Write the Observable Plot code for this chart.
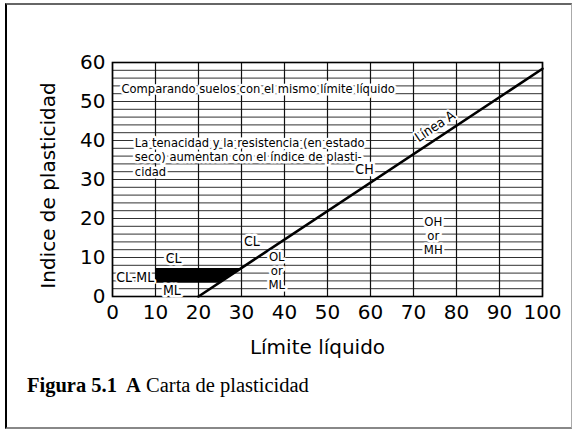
<!DOCTYPE html>
<html><head><meta charset="utf-8">
<script src="https://cdn.jsdelivr.net/npm/d3@7"></script>
<script src="https://cdn.jsdelivr.net/npm/@observablehq/plot@0.6"></script>
<style>
body{margin:0;background:#fff;}
#wrap{position:relative;width:574px;height:431px;overflow:hidden;background:#fff;}
#frame{position:absolute;left:5px;top:3px;width:567px;height:426px;border-left:2px solid #000;border-top:2px solid #666;border-bottom:2px solid #888;border-right:1px solid #aaa;box-sizing:border-box;pointer-events:none;}
#chart{position:absolute;left:0;top:0;}
#cap{position:absolute;left:27px;top:374px;font-family:"Liberation Serif","Times New Roman",serif;font-size:20.5px;color:#000;white-space:pre;}
</style></head>
<body>
<div id="wrap"><div id="chart"></div><div id="frame"></div>
<div id="cap"><b>Figura 5.1  A</b> Carta de plasticidad</div></div>
<script>
const xTicks = [0,10,20,30,40,50,60,70,80,90,100];
const yTicks = [0,10,20,30,40,50,60];
const gridY = [0,2,4,6,8,10,12,14,16,18,20,22,24,26,28,30,32,34,36,38,40,42,44,46,48,50,52,54,56,58,60];
const aLineLL = [20, 100];
const aLinePI = [0, 58.4];
const bandPI = [3.4, 7.2];
const bandLLstart = [10, 10];
const bandLLend = [24.7, 29.9];
const labelText = ["CH","CL","CL","ML"];
const labelLL = [58.6, 32.4, 14.2, 13.8];
const labelPI = [32.6, 14.1, 9.7, 1.5];
const stackText = ["OL\nor\nML","OH\nor\nMH"];
const stackLL = [38.2, 74.6];
const stackPI = [6.7, 15.6];
const endLabel = {text: "CL-ML", ll: 9.7, pi: 4.9};
const noteText = ["Comparando suelos con el mismo límite líquido",
  "La tenacidad y la resistencia (en estado\nseco) aumentan con el índice de plasti-\ncidad"];
const noteLL = [2.1, 5.2];
const notePI = [53.3, 35.8];
const lineLabel = {text: "Línea A", ll: 75, pi: 43.6};
const xTitle = "Límite líquido";
const yTitle = "Indice de plasticidad";

const labels = labelText.map((t,i)=>({t, ll: labelLL[i], pi: labelPI[i]}));
const stacks = stackText.map((t,i)=>({t, ll: stackLL[i], pi: stackPI[i]}));
const notes = noteText.map((t,i)=>({t, ll: noteLL[i], pi: notePI[i]}));
const aLine = aLineLL.map((ll,i)=>({ll, pi: aLinePI[i]}));
const band = bandPI.map((pi,i)=>({pi, x1: bandLLstart[i], x2: bandLLend[i]}));
const narrow = "'Liberation Sans Narrow','DejaVu Sans Condensed','Arial Narrow',sans-serif";

const chart = Plot.plot({
  width: 574, height: 362,
  marginLeft: 112, marginRight: 32, marginTop: 62, marginBottom: 66,
  style: {fontFamily: "'DejaVu Sans', sans-serif", background: "transparent"},
  x: {domain: [0, 100]},
  y: {domain: [0, 60]},
  marks: [
    Plot.ruleY(gridY, {stroke: "#1a1a1a", strokeWidth: 0.9}),
    Plot.ruleX(xTicks, {stroke: "#111", strokeWidth: 1.2}),
    Plot.frame({stroke: "#000", strokeWidth: 1.6}),
    Plot.areaX(band, {y: "pi", x1: "x1", x2: "x2", fill: "#000", curve: "linear"}),
    Plot.line(aLine, {x: "ll", y: "pi", stroke: "#000", strokeWidth: 2.6}),
    Plot.text(notes, {x: "ll", y: "pi", text: "t", textAnchor: "start", fontSize: 12.8, fontFamily: narrow, lineHeight: 1.12, fill: "#000", stroke: "white", strokeWidth: 5}),
    Plot.text(labels, {x: "ll", y: "pi", text: "t", fontSize: 14, fontFamily: narrow, fill: "#000", stroke: "white", strokeWidth: 5}),
    Plot.text(stacks, {x: "ll", y: "pi", text: "t", fontSize: 13, lineHeight: 1.06, fontFamily: narrow, fill: "#000", stroke: "white", strokeWidth: 5}),
    Plot.text([endLabel], {x: "ll", y: "pi", text: "text", textAnchor: "end", fontSize: 14, fontFamily: narrow, fill: "#000", stroke: "white", strokeWidth: 4}),
    Plot.text([lineLabel], {x: "ll", y: "pi", text: "text", rotate: -33.5, fontSize: 13.5, fontFamily: narrow, fill: "#000", stroke: "white", strokeWidth: 4}),
    Plot.axisX(xTicks, {tickSize: 0, tickPadding: 8, fontSize: 20, label: null}),
    Plot.axisY(yTicks, {tickSize: 0, tickPadding: 7, fontSize: 20, label: null}),
    Plot.text([xTitle], {frameAnchor: "bottom", text: d => d, fontSize: 20, dx: -10, dy: 51, lineAnchor: "middle"}),
    Plot.text([yTitle], {frameAnchor: "left", text: d => d, fontSize: 20, rotate: -90, textAnchor: "middle", dx: -64, dy: 6, lineAnchor: "middle"})
  ]
});
document.getElementById("chart").appendChild(chart);
</script>
</body></html>
